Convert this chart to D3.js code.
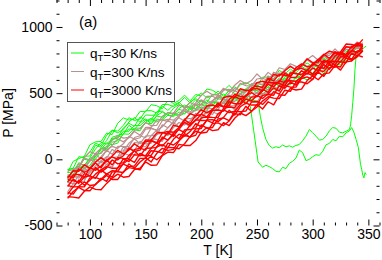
<!DOCTYPE html>
<html>
<head>
<meta charset="utf-8">
<script src="https://cdnjs.cloudflare.com/ajax/libs/d3/7.8.5/d3.min.js"></script>
<style>
  body { margin: 0; background: #fff; }
  svg { display: block; font-family: "Liberation Sans", Arial, sans-serif; }
</style>
</head>
<body>
<svg width="382" height="260"></svg>
<script>
// temperature grid shared by most runs (K)
var temps = [80,85,90,95,100,105,110,115,120,125,130,135,140,145,150,155,160,165,170,175,
             180,185,190,195,200,205,210,215,220,225,230,235,240,245,250,255,260,265,270,275,
             280,285,290,295,300,305,310,315,320,325,330,335,340,345];

var rates = ["30", "300", "3000"];
var colors = ["#00ff00", "#bc8f8f", "#ff0000"];
var widths = [1, 1.2, 1.4];

// q_T = 30 K/ns, pressure (MPa) per run
var p30 = [
  [-170,-110,-60,-65,-48,22,73,125,110,123,195,229,223,215,282,311,282,304,355,342,325,348,388,412,384,379,432,426,395,419,462,443,495,452,478,517,545,527,518,575,561,624,619,601,632,682,647,711,719,712,778,757,781,823],
  [-129,-130,-52,0,-8,17,85,80,167,181,190,257,226,275,305,268,330,357,333,329,385,410,385,382,445,409,402,456,453,422,480,466,460,522,520,492,529,577,552,612,592,586,645,652,627,695,684,738,709,749,740,810,787,823],
  [-100,-97,-25,-45,12,77,128,115,157,165,237,272,250,320,297,298,360,364,333,385,415,385,405,450,410,449,417,474,493,462,460,499,530,509,546,517,547,586,556,625,622,610,639,688,650,702,691,743,712,772,769,816,798,830],
  [-77,-70,-58,23,25,107,91,142,217,201,225,282,316,280,335,333,335,402,370,409,430,392,435,458,438,429,492,484,465,524,497,486,535,554,518,554,599,576,614,593,662,651,640,666,713,692,738,707,764,791,771,798,846,825],
  [-78,-67,20,13,55,122,103,182,220,213,257,315,293,305,367,368,350,414,415,399,425,468,425,472,500,464,479,516,477,519,547,521,510,569,576,560,625,600,643,631,619,678,702,678,681,727,764,732,772,757,816,806,841,825],
  [-100,-15,5,23,110,132,135,198,187,273,313,297,303,362,359,413,405,382,447,422,445,485,442,490,478,531,522,496,517,559,512,563,580,559,553,620,622,608,672,645,682,652,701,728,703,729,779,739,792,786,830,795,854,850]
];

// the two q_T = 30 K/ns runs that drop out of the band
var dropAT = [244,247,251,255,258,261,264,267,270,273,276,279,282,285,288,291,294,297,300,303,306,309,312,315,318,321,324,327,330,333,335,337,339,341,342,343,344,345,346,347,348];
var dropAP = [-160,-138,-80,-72,-10,0,60,78,130,140,192,190,235,236,275,268,305,296,333,322,358,343,377,366,397,383,414,400,430,418,448,435,440,
              400,220,-20,-60,-45,-55,-70,-90,-95,-60,-70,-30,-15,10,70,50,-10,0,20,35,30,60,110,120,150,140,175,170,200,215,240,205,150,90,25,-40,-75,-120,-140,-100,-115];
var dropBT = [251,253,255,258,261,264,267,270,273,276,279,282,285,288,291,294,297,300,303,306,309,312,315,318,321,324,327,330,333,334,335,336,337,338,339,341,343,345,347,348];
var dropBP = [-130,-118,-62,-50,8,22,80,95,150,160,212,212,255,255,294,288,327,318,352,342,377,366,397,384,417,404,434,421,452,438,468,455,462,450,
              437,325,240,150,105,85,95,88,108,95,102,92,105,112,140,175,225,200,175,145,150,175,215,240,235,205,200,212,225,260,330,430,530,680,780,800,820,835,850,855];

// q_T = 300 K/ns
var p300 = [
  [-245,-185,-173,-164,-85,-78,-88,-39,-60,18,48,31,37,95,95,154,150,136,210,194,225,276,245,304,303,362,360,340,367,415,375,432,455,435,430,499,502,494,564,543,587,562,617,650,631,661,714,679,736,734,782,752,815,815],
  [-174,-184,-120,-149,-100,-50,-12,-39,-7,-7,55,89,67,136,116,122,188,201,179,240,278,259,291,347,318,363,338,401,426,401,406,451,488,468,506,479,510,553,526,599,599,591,622,675,641,694,684,738,709,770,769,818,800,834],
  [-180,-122,-143,-85,-65,-80,-10,20,12,18,95,74,127,123,120,179,220,193,238,279,245,308,308,317,388,390,382,375,440,445,435,497,455,500,500,551,522,589,584,565,622,622,669,643,688,667,736,737,735,795,765,813,795,850],
  [-125,-135,-131,-59,-65,2,-27,10,75,51,65,121,155,118,176,179,185,261,238,286,315,288,343,377,368,365,435,433,420,485,465,460,515,535,500,538,584,563,605,586,657,649,640,668,718,698,745,714,771,800,780,807,857,836],
  [-145,-90,-75,-87,-5,-18,20,68,38,98,97,96,165,178,163,237,218,246,295,264,323,366,340,374,415,390,442,473,450,455,520,493,512,560,560,538,597,593,593,659,630,678,686,664,712,749,719,746,803,776,780,840,842,839],
  [-117,-120,-33,-49,-15,37,5,70,98,83,117,174,152,163,228,234,220,293,303,296,330,384,353,411,450,420,442,485,452,500,535,515,510,570,578,564,630,607,652,642,632,692,717,695,700,745,782,750,789,774,833,823,858,842],
  [-145,-78,-61,10,-6,44,85,58,107,155,132,163,211,182,242,241,297,298,285,351,337,386,430,409,417,475,477,457,524,529,514,575,557,552,607,613,596,658,640,676,706,675,704,753,722,724,777,804,789,793,851,846,834,881],
  [-88,-78,-63,13,57,42,45,98,143,178,160,166,220,231,278,254,257,326,353,347,408,396,393,426,485,515,487,488,537,510,560,595,570,595,645,606,657,625,692,679,722,702,699,755,784,748,787,786,835,794,850,847,886,865]
];

// q_T = 3000 K/ns
var p3000 = [
  [-283,-286,-292,-241,-208,-227,-230,-182,-142,-112,-135,-130,-77,-67,-20,-45,-43,28,55,51,113,105,105,142,205,240,217,223,277,255,310,350,330,360,415,380,435,412,487,484,536,524,530,595,630,601,646,653,709,674,737,742,787,773],
  [-295,-243,-212,-236,-238,-187,-155,-122,-152,-152,-95,-63,-70,-80,-10,23,-3,30,90,88,80,118,173,212,199,205,270,275,255,290,345,337,400,363,395,440,473,462,459,522,514,584,584,571,606,659,627,692,703,698,767,747,774,818],
  [-250,-263,-204,-171,-198,-192,-143,-167,-95,-94,-100,-35,-67,-20,13,-20,45,83,68,75,140,180,170,182,260,235,240,305,313,293,363,360,365,433,437,415,457,511,493,559,545,546,611,623,602,673,664,720,695,737,730,802,782,820],
  [-265,-208,-207,-208,-140,-137,-153,-109,-135,-62,-37,-55,-50,7,7,65,60,48,122,108,140,195,167,230,233,297,300,285,317,370,335,397,425,410,410,483,490,484,557,537,583,561,618,652,634,663,717,682,739,738,786,755,819,819],
  [-197,-210,-157,-196,-158,-112,-80,-112,-85,-90,-33,0,-23,45,25,30,95,110,88,151,190,175,210,270,245,295,275,343,373,353,363,413,455,440,483,460,495,540,516,591,594,589,622,676,643,696,688,742,713,775,774,823,807,841],
  [-205,-150,-182,-134,-125,-144,-80,-55,-68,-67,5,-17,35,30,27,85,125,100,145,188,155,222,225,238,313,320,317,315,385,395,390,457,420,470,475,530,505,575,573,557,617,619,669,645,691,670,740,742,741,801,772,821,804,860],
  [-150,-163,-170,-108,-125,-62,-97,-65,-5,-34,-25,30,63,25,83,85,90,168,145,195,225,202,260,298,293,295,370,373,365,435,420,420,480,505,475,517,567,549,594,578,653,647,641,672,722,704,751,722,780,809,791,819,870,850],
  [-170,-118,-114,-136,-65,-82,-50,-7,-42,13,7,5,73,85,70,143,123,153,202,173,233,280,257,295,340,320,377,413,395,405,475,453,477,530,535,517,580,579,583,652,626,678,689,669,719,756,728,756,814,789,794,855,859,857],
  [-127,-140,-72,-98,-75,-27,-65,-5,18,-2,27,83,60,70,135,140,125,200,210,205,240,298,270,332,375,350,377,425,397,450,490,475,475,540,553,543,613,593,642,635,629,692,721,701,708,755,794,763,804,790,851,842,879,864],
  [-140,-86,-90,-41,-68,-22,13,-19,25,68,40,70,117,87,147,145,200,203,190,258,245,298,345,328,340,403,410,395,467,477,467,533,520,520,580,590,577,643,629,669,702,675,708,760,731,735,789,818,805,811,871,868,857,906]
];

var xMajor = [100, 150, 200, 250, 300, 350];
var yMajor = [-500, 0, 500, 1000];

var x = d3.scaleLinear().domain([70, 360]).range([56.5, 379.5]);
var y = d3.scaleLinear().domain([-500, 1200]).range([225.5, 0.5]);

var svg = d3.select("svg");

svg.append("clipPath").attr("id", "clip")
  .append("rect")
    .attr("x", 56.5).attr("y", 0.5)
    .attr("width", 323).attr("height", 225);

var line = d3.line().x(d => x(d[0])).y(d => y(d[1]));
var onGrid = run => run.map((p, i) => [temps[i], p]);
var onOwn = (ts, ps) => ps.map((p, i) => [ts[i], p]);

var runs30 = p30.map(onGrid);
runs30.push(onOwn(temps.slice(0, 33).concat(dropAT), dropAP));
runs30.push(onOwn(temps.slice(0, 34).concat(dropBT), dropBP));

var groups = [runs30, p300.map(onGrid), p3000.map(onGrid)];

var plot = svg.append("g").attr("clip-path", "url(#clip)");
groups.forEach(function(runs, k) {
  plot.append("g")
    .selectAll("path")
    .data(runs)
    .enter()
    .append("path")
      .attr("d", line)
      .attr("fill", "none")
      .attr("stroke", colors[k])
      .attr("stroke-width", widths[k])
      .attr("stroke-linejoin", "round");
});

// axes: ticks point inward on all four sides
var xMinor = d3.range(70, 361, 10).filter(v => v % 50 != 0);
var yMinor = d3.range(-500, 1201, 100).filter(v => v % 500 != 0);

function styleAxis(g) {
  g.select(".domain").remove();
  g.selectAll("line").attr("stroke", "#000");
  g.selectAll("text").attr("fill", "#000").attr("font-size", 14)
    .attr("font-family", "Liberation Sans, Arial, sans-serif");
}

var bottom = y.range()[0], top = y.range()[1];
var left = x.range()[0], right = x.range()[1];
var plain = d => String(d);

svg.append("g").attr("transform", `translate(0,${bottom})`)
  .call(d3.axisBottom(x).tickValues(xMajor).tickSizeInner(-6).tickSizeOuter(0).tickPadding(4).tickFormat(plain))
  .call(styleAxis);
svg.append("g").attr("transform", `translate(0,${bottom})`)
  .call(d3.axisBottom(x).tickValues(xMinor).tickSizeInner(-3).tickSizeOuter(0).tickFormat(""))
  .call(styleAxis);
svg.append("g").attr("transform", `translate(0,${top})`)
  .call(d3.axisTop(x).tickValues(xMajor).tickSizeInner(-6).tickSizeOuter(0).tickFormat(""))
  .call(styleAxis);
svg.append("g").attr("transform", `translate(0,${top})`)
  .call(d3.axisTop(x).tickValues(xMinor).tickSizeInner(-3).tickSizeOuter(0).tickFormat(""))
  .call(styleAxis);

svg.append("g").attr("transform", `translate(${left},0)`)
  .call(d3.axisLeft(y).tickValues(yMajor).tickSizeInner(-6).tickSizeOuter(0).tickPadding(4).tickFormat(plain))
  .call(styleAxis);
svg.append("g").attr("transform", `translate(${left},0)`)
  .call(d3.axisLeft(y).tickValues(yMinor).tickSizeInner(-3).tickSizeOuter(0).tickFormat(""))
  .call(styleAxis);
svg.append("g").attr("transform", `translate(${right},0)`)
  .call(d3.axisRight(y).tickValues(yMajor).tickSizeInner(-6).tickSizeOuter(0).tickFormat(""))
  .call(styleAxis);
svg.append("g").attr("transform", `translate(${right},0)`)
  .call(d3.axisRight(y).tickValues(yMinor).tickSizeInner(-3).tickSizeOuter(0).tickFormat(""))
  .call(styleAxis);

svg.append("rect")
  .attr("x", left).attr("y", top)
  .attr("width", right - left).attr("height", bottom - top)
  .attr("fill", "none").attr("stroke", "#000").attr("stroke-width", 1);

// axis titles
svg.append("text")
  .attr("x", (left + right) / 2).attr("y", 255)
  .attr("text-anchor", "middle").attr("font-size", 14)
  .text("T [K]");
svg.append("text")
  .attr("transform", "translate(13,113) rotate(-90)")
  .attr("text-anchor", "middle").attr("font-size", 14)
  .text("P [MPa]");

svg.append("text")
  .attr("x", 79).attr("y", 27).attr("font-size", 15)
  .text("(a)");

// legend
var legend = svg.append("g");
legend.append("rect")
  .attr("x", 67.5).attr("y", 42.5).attr("width", 107).attr("height", 59)
  .attr("fill", "#fff").attr("stroke", "#555").attr("stroke-width", 1);

var rowY = [53, 71.5, 90];
rates.forEach(function(r, i) {
  legend.append("line")
    .attr("x1", 71).attr("x2", 84)
    .attr("y1", rowY[i]).attr("y2", rowY[i])
    .attr("stroke", colors[i]).attr("stroke-width", 1);
  var t = legend.append("text")
    .attr("x", 90).attr("y", rowY[i] + 5)
    .attr("font-size", 13.5);
  t.append("tspan").text("q");
  t.append("tspan").attr("font-size", 9.5).attr("dy", 3).text("T");
  t.append("tspan").attr("dy", -3).text("=" + r + " K/ns");
});
</script>
</body>
</html>
